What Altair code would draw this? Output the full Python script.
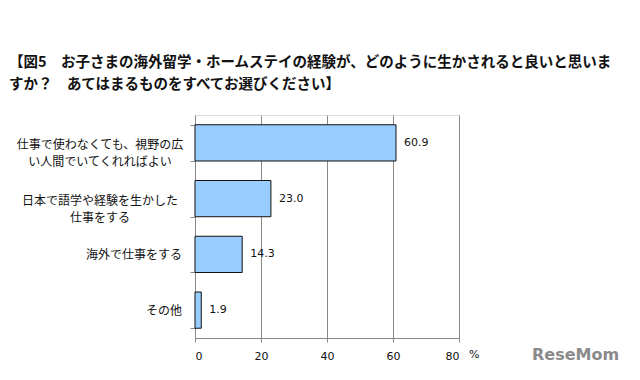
import altair as alt
import pandas as pd

categories = [
    "仕事で使わなくても、視野の広|い人間でいてくれればよい",
    "日本で語学や経験を生かした|仕事をする",
    "海外で仕事をする",
    "その他",
]
values = [60.9, 23.0, 14.3, 1.9]
x_ticks = [0, 20, 40, 60, 80]
title_lines = [
    "【図5　お子さまの海外留学・ホームステイの経験が、どのように生かされると良いと思いま",
    "すか？　あてはまるものをすべてお選びください】",
]

df = pd.DataFrame({"cat": categories, "val": values})
df["lbl"] = df["val"].map(lambda v: f"{v:.1f}")

FONT = "Noto Sans CJK JP"

y_scale = alt.Scale(paddingInner=0.35, paddingOuter=0.175)
y_enc = alt.Y(
    "cat:N",
    sort=categories,
    scale=y_scale,
    axis=alt.Axis(
        title=None,
        labels=False,
        tickBand="extent",
        tickSize=5,
        tickColor="#888",
        domainColor="#888",
    ),
)
x_enc = alt.X(
    "val:Q",
    scale=alt.Scale(domain=[0, 80], nice=False),
    axis=alt.Axis(
        title=None,
        values=x_ticks,
        grid=True,
        gridColor="#888",
        gridWidth=1,
        domainColor="#888",
        tickColor="#888",
        tickSize=4,
        labelFont="DejaVu Sans",
        labelFontSize=11,
        labelColor="#111",
        labelPadding=8,
    ),
)

bars = alt.Chart(df).mark_bar(
    color="#99CCFF", stroke="#111", strokeWidth=1
).encode(x=x_enc, y=y_enc)

labels = alt.Chart(df).mark_text(
    align="left", baseline="middle", dx=8, font="DejaVu Sans", fontSize=11, color="#111"
).encode(x="val:Q", y=alt.Y("cat:N", sort=categories), text="lbl:N")

# category labels: multi-line ones centered as a block, single-line ones right-aligned
cat_multi = alt.Chart(df).transform_filter(
    "indexof(datum.cat, '|') >= 0"
).mark_text(
    align="center", baseline="middle", lineBreak="|", lineHeight=17, dy=2,
    font=FONT, fontSize=12, color="#111"
).encode(x=alt.value(-95), y=alt.Y("cat:N", sort=categories), text="cat:N")

cat_single = alt.Chart(df).transform_filter(
    "indexof(datum.cat, '|') < 0"
).mark_text(
    align="right", baseline="middle", dy=1,
    font=FONT, fontSize=12, color="#111"
).encode(x=alt.value(-13), y=alt.Y("cat:N", sort=categories), text="cat:N")

pct = alt.Chart(pd.DataFrame({"t": ["%"]})).mark_text(
    align="left", baseline="middle", font="DejaVu Sans", fontSize=11, color="#111"
).encode(x=alt.value(274), y=alt.value(240), text="t:N")

logo = alt.Chart(pd.DataFrame({"t": ["ReseMom"]})).mark_text(
    align="left", baseline="middle", font="DejaVu Sans", fontSize=16,
    fontWeight="bold", color="#8a8a8a"
).encode(x=alt.value(337), y=alt.value(240), text="t:N")

chart = alt.layer(bars, labels, cat_multi, cat_single, pct, logo).properties(
    width=264,
    height=223,
    autosize=alt.AutoSizeParams(type="none"),
    padding={"left": 187, "top": 107, "right": 170, "bottom": 30},
    title=alt.TitleParams(
        text=title_lines,
        anchor="start",
        frame="group",
        font=FONT,
        fontSize=14.5,
        fontWeight="bold",
        color="#111",
        lineHeight=22,
        dx=-186,
        offset=23,
    ),
).configure_view(stroke=None).configure(background="white")

chart.save("out.html", embed_options={"renderer": "svg", "actions": False})
